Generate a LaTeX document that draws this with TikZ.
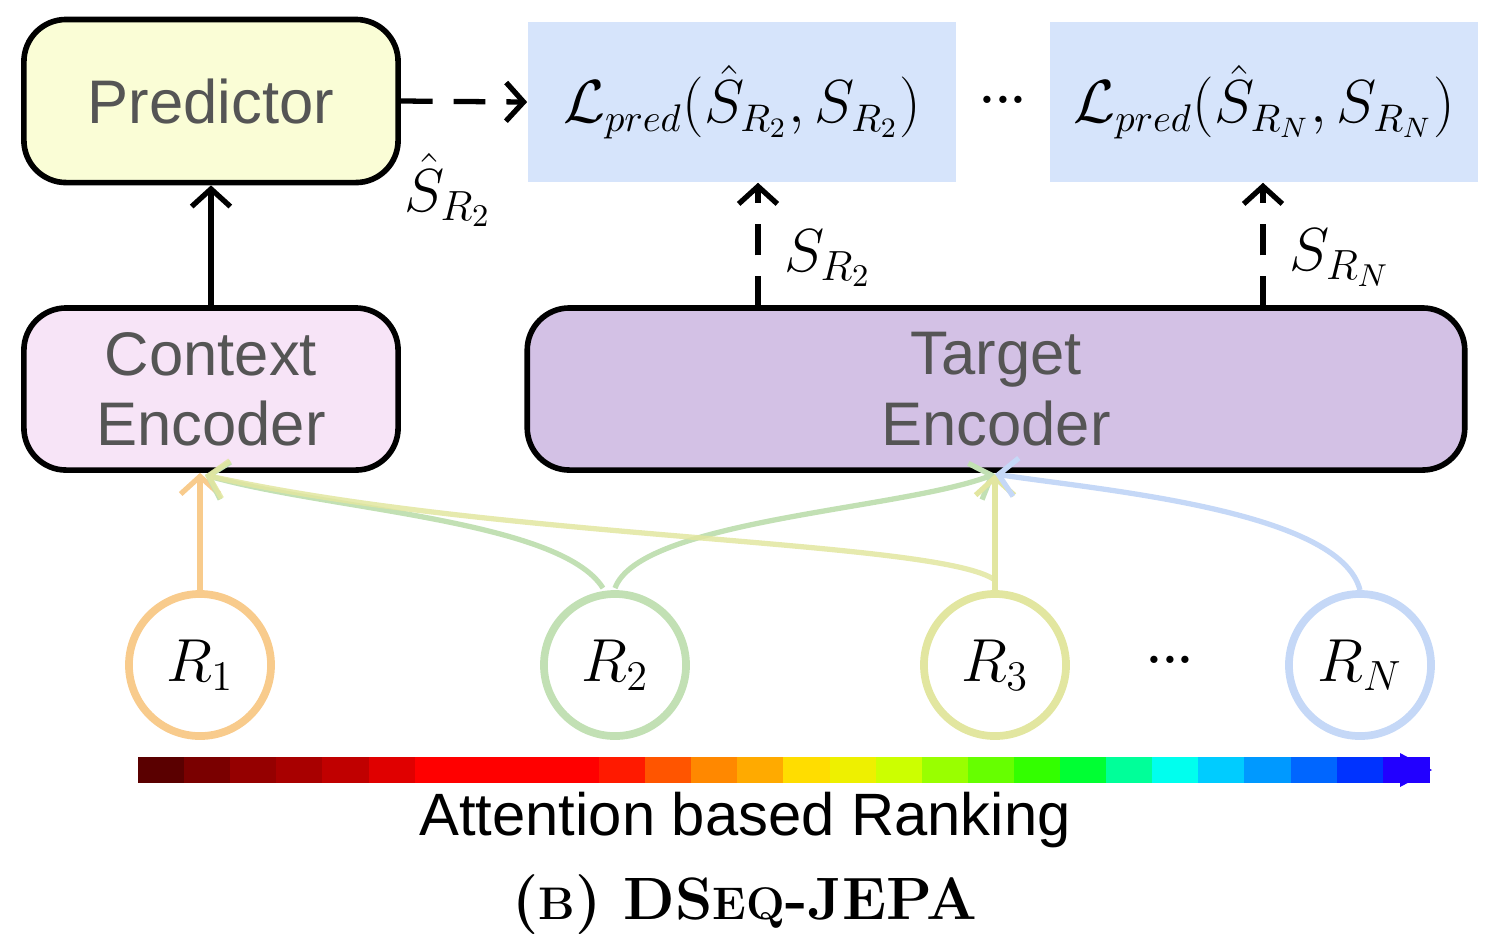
\documentclass[tikz,border=0pt]{standalone}
\usepackage{amsmath}
\usepackage{fontspec}
\setsansfont{Liberation Sans}
\usetikzlibrary{positioning, arrows.meta}
\tikzset{>=Stealth}
\definecolor{predfill}{HTML}{FAFDD6}
\definecolor{lossfill}{HTML}{D6E4FB}
\definecolor{ctxfill}{HTML}{F7E4F7}
\definecolor{tgtfill}{HTML}{D3C1E5}
\definecolor{rone}{HTML}{F8CB8C}
\definecolor{rtwo}{HTML}{C2E0B4}
\definecolor{rthree}{HTML}{E2E6A0}
\definecolor{rn}{HTML}{C5D8F7}
\definecolor{txtgray}{HTML}{555555}
\definecolor{barend}{HTML}{2200FF}
\tikzset{
  blockbox/.style={draw, line width=1.6pt, rounded corners=12pt, text=txtgray, align=center, font=\sffamily\fontsize{17.5}{20}\selectfont, inner sep=0pt},
  lossbox/.style={fill=lossfill, minimum width=4.28cm, minimum height=1.6cm, font=\fontsize{16}{20}\selectfont},
  regcirc/.style={circle, line width=2.2pt, minimum size=1.42cm, font=\fontsize{18}{20}\selectfont},
  flow/.style={line width=1.5pt, ->, >={Straight Barb[length=5pt,width=11pt,line width=1.5pt]}},
  dashflow/.style={flow, dash pattern=on 9pt off 6pt},
}
\begin{document}
\begin{tikzpicture}[x=0.01cm,y=-0.01cm]
\useasboundingbox (0,0) rectangle (1490,947);
% blocks
\node[blockbox, fill=predfill, minimum width=3.74cm, minimum height=1.63cm] (pred) at (211,101) {Predictor};
\node[blockbox, fill=ctxfill, minimum width=3.74cm, minimum height=1.62cm] (ctx) at (211,389) {Context\\Encoder};
\node[blockbox, fill=tgtfill, minimum width=9.37cm, minimum height=1.62cm] (tgt) at (996,389) {Target\\Encoder};
\node[lossbox] (loss2) at (742,102) {$\mathcal{L}_{pred}(\hat{S}_{R_2},S_{R_2})$};
\node[lossbox] (lossN) at (1264,102) {$\mathcal{L}_{pred}(\hat{S}_{R_N},S_{R_N})$};
\node[font=\bfseries\Large] (ldots) at (1003,100) {...};
% arrows
\draw[flow] (ctx.north) -- (pred.south);
\draw[dashflow] (pred.east) -- (loss2.west);
\node[font=\fontsize{18}{20}\selectfont] (shat) at (448,190) {$\hat{S}_{R_2}$};
\coordinate (t2) at (758,308);
\coordinate (tN) at (1263,308);
\draw[dashflow] (t2) -- (t2 |- loss2.south);
\draw[dashflow] (tN) -- (tN |- lossN.south);
\node[font=\fontsize{18}{20}\selectfont] (s2) at (828,258) {$S_{R_2}$};
\node[font=\fontsize{18}{20}\selectfont] (sN) at (1340,258) {$S_{R_N}$};
% regions
\node[regcirc, draw=rone] (r1) at (200,665) {$R_1$};
\node[regcirc, draw=rtwo] (r2) at (615,665) {$R_2$};
\node[regcirc, draw=rthree] (r3) at (995,665) {$R_3$};
\node[regcirc, draw=rn] (rN) at (1360,665) {$R_N$};
\node[font=\bfseries\Large] (rdots) at (1170,660) {...};
\coordinate (cin) at (205,475);
\coordinate (tin) at (995,474);
\draw[flow, rone] (r1.north) -- (r1 |- ctx.south);
\draw[flow, rtwo] (r2.north) ++(-12,-2) .. controls (560,520) and (330,510) .. (cin);
\draw[flow, rtwo] (r2.north) ++(0,-2) .. controls (640,520) and (900,510) .. (tin);
\draw[flow, rthree] (r3.north) -- (tin);
\draw[flow, rthree, opacity=0.85] (r3.north) ++(0,-10) .. controls (940,540) and (500,540) .. (cin);
\draw[flow, rn] (rN.north) .. controls (1340,510) and (1100,490) .. (tin);
% ranking bar
\foreach \c [count=\i from 0] in {5A0000,7A0000,950000,A80000,C00000,E00000,FF0000,FF0000,FF0000,FF0000,FF1A00,FF5500,FF8800,FFAA00,FFDD00,EEF000,CCFF00,99FF00,66FF00,33FF00,00FF33,00FF99,00FFEE,00CCFF,0099FF,0066FF,0033FF,2200FF}{
  \definecolor{barcol}{HTML}{\c}
  \fill[barcol] (138+\i*46.1,757) rectangle (138+\i*46.1+47,783);
}
\fill[barend] (1400,753) -- (1432,770) -- (1400,787) -- cycle;
\node[font=\sffamily\fontsize{17}{20}\selectfont] (rank) at (745,820) {Attention based Ranking};
\node[font=\bfseries\fontsize{17}{20}\selectfont] (cap) at (745,905) {(\fontsize{13}{15}\selectfont B\fontsize{17}{20}\selectfont) DS\fontsize{13}{15}\selectfont EQ\fontsize{17}{20}\selectfont-JEPA};
\end{tikzpicture}
\end{document}
